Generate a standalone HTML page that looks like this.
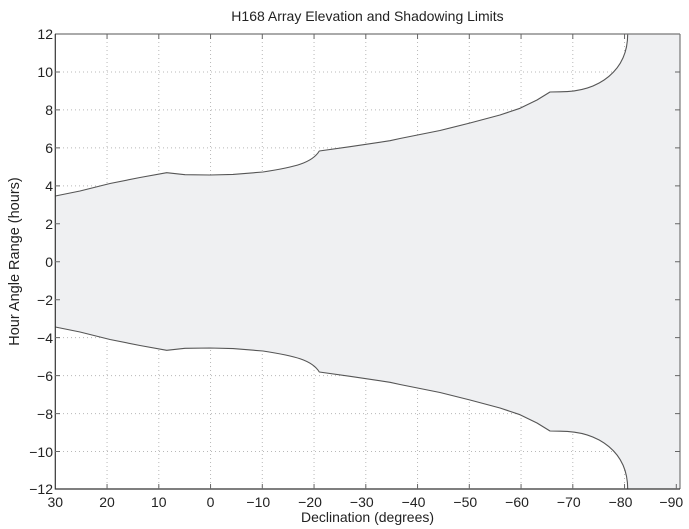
<!DOCTYPE html>
<html><head><meta charset="utf-8"><style>
html,body{margin:0;padding:0;background:#fff;}
svg{display:block;}
text{font-family:"Liberation Sans",Arial,sans-serif;fill:#222;}
</style></head><body>
<svg width="689" height="529" viewBox="0 0 689 529" xmlns="http://www.w3.org/2000/svg">
<rect x="0" y="0" width="689" height="529" fill="#fff"/>
<!-- grid -->
<g stroke="#b8b8b8" stroke-width="1" stroke-dasharray="1,3">
<line x1="107.05" y1="34" x2="107.05" y2="489"/>
<line x1="158.8" y1="34" x2="158.8" y2="489"/>
<line x1="210.55" y1="34" x2="210.55" y2="489"/>
<line x1="262.3" y1="34" x2="262.3" y2="489"/>
<line x1="314.05" y1="34" x2="314.05" y2="489"/>
<line x1="365.8" y1="34" x2="365.8" y2="489"/>
<line x1="417.55" y1="34" x2="417.55" y2="489"/>
<line x1="469.3" y1="34" x2="469.3" y2="489"/>
<line x1="521.05" y1="34" x2="521.05" y2="489"/>
<line x1="572.8" y1="34" x2="572.8" y2="489"/>
<line x1="624.55" y1="34" x2="624.55" y2="489"/>
<line x1="676.3" y1="34" x2="676.3" y2="489"/>
<line x1="55" y1="71.96" x2="680" y2="71.96"/>
<line x1="55" y1="109.92" x2="680" y2="109.92"/>
<line x1="55" y1="147.88" x2="680" y2="147.88"/>
<line x1="55" y1="185.84" x2="680" y2="185.84"/>
<line x1="55" y1="223.8" x2="680" y2="223.8"/>
<line x1="55" y1="261.76" x2="680" y2="261.76"/>
<line x1="55" y1="299.72" x2="680" y2="299.72"/>
<line x1="55" y1="337.68" x2="680" y2="337.68"/>
<line x1="55" y1="375.64" x2="680" y2="375.64"/>
<line x1="55" y1="413.6" x2="680" y2="413.6"/>
<line x1="55" y1="451.56" x2="680" y2="451.56"/>
</g>
<!-- shaded region -->
<path d="M55.3,196 L80,191 L110,183.5 L140,177.5 L166.7,172.7 L185,174.7 L210,175 L233,174.4 L263,172 C295,167 312,163 319.3,151 L350,146.7 L390,140.7 L400,138.5 L440,130.5 L470,123 L500,115 L520,108.3 L537,100 L550,92 L560,91.8 C600,91.8 627.7,70 627.7,34 L680,34 L680,489 L627.7,489 C627.7,453 600,431.2 560,431.2 L550,431 L537,423 L520,414.7 L500,408 L470,400 L440,392.5 L400,384.5 L390,382.3 L350,376.3 L319.3,372 C312,360 295,356 263,351 L233,348.6 L210,348 L185,348.3 L166.7,350.3 L140,345.5 L110,339.5 L80,332 L55.3,327 Z" fill="#eff0f2" stroke="none"/>
<!-- curves -->
<g fill="none" stroke="#555" stroke-width="1.1" stroke-linejoin="round">
<path d="M55.3,196 L80,191 L110,183.5 L140,177.5 L166.7,172.7 L185,174.7 L210,175 L233,174.4 L263,172 C295,167 312,163 319.3,151 L350,146.7 L390,140.7 L400,138.5 L440,130.5 L470,123 L500,115 L520,108.3 L537,100 L550,92 L560,91.8 C600,91.8 627.7,70 627.7,34"/>
<path d="M55.3,327 L80,332 L110,339.5 L140,345.5 L166.7,350.3 L185,348.3 L210,348 L233,348.6 L263,351 C295,356 312,360 319.3,372 L350,376.3 L390,382.3 L400,384.5 L440,392.5 L470,400 L500,408 L520,414.7 L537,423 L550,431 L560,431.2 C600,431.2 627.7,453 627.7,489"/>
</g>
<!-- axes box -->
<line x1="55" y1="34" x2="680" y2="34" stroke="#777" stroke-width="1.2"/>
<line x1="680" y1="34" x2="680" y2="489" stroke="#777" stroke-width="1.2"/>
<line x1="55.3" y1="34" x2="55.3" y2="489.5" stroke="#333" stroke-width="1.2"/>
<line x1="55" y1="489" x2="680" y2="489" stroke="#333" stroke-width="1.2"/>
<!-- ticks -->
<g stroke="#666" stroke-width="1">
<path d="M107.05,489v-5M158.8,489v-5M210.55,489v-5M262.3,489v-5M314.05,489v-5M365.8,489v-5M417.55,489v-5M469.3,489v-5M521.05,489v-5M572.8,489v-5M624.55,489v-5M676.3,489v-5"/>
<path d="M107.05,34v5M158.8,34v5M210.55,34v5M262.3,34v5M314.05,34v5M365.8,34v5M417.55,34v5M469.3,34v5M521.05,34v5M572.8,34v5M624.55,34v5"/>
<path d="M55,71.96h5M55,109.92h5M55,147.88h5M55,185.84h5M55,223.8h5M55,261.76h5M55,299.72h5M55,337.68h5M55,375.64h5M55,413.6h5M55,451.56h5"/>
<path d="M680,71.96h-5M680,109.92h-5M680,147.88h-5M680,185.84h-5M680,223.8h-5M680,261.76h-5M680,299.72h-5M680,337.68h-5M680,375.64h-5M680,413.6h-5M680,451.56h-5"/>
</g>
<!-- title -->
<text x="367.5" y="21" font-size="14" text-anchor="middle">H168 Array Elevation and Shadowing Limits</text>
<!-- y tick labels -->
<g font-size="14" text-anchor="end">
<text x="53" y="39">12</text>
<text x="53" y="77">10</text>
<text x="53" y="115">8</text>
<text x="53" y="153">6</text>
<text x="53" y="191">4</text>
<text x="53" y="229">2</text>
<text x="53" y="267">0</text>
<text x="53" y="305">−2</text>
<text x="53" y="343">−4</text>
<text x="53" y="381">−6</text>
<text x="53" y="419">−8</text>
<text x="53" y="457">−10</text>
<text x="53" y="494">−12</text>
</g>
<!-- x tick labels -->
<g font-size="14" text-anchor="middle">
<text x="55.3" y="507">30</text>
<text x="107.05" y="507">20</text>
<text x="158.8" y="507">10</text>
<text x="210.55" y="507">0</text>
<text x="258.3" y="507">−10</text>
<text x="310.05" y="507">−20</text>
<text x="361.8" y="507">−30</text>
<text x="413.55" y="507">−40</text>
<text x="465.3" y="507">−50</text>
<text x="517.05" y="507">−60</text>
<text x="568.8" y="507">−70</text>
<text x="620.55" y="507">−80</text>
<text x="671.3" y="507">−90</text>
</g>
<!-- axis labels -->
<text x="367.5" y="522" font-size="14" text-anchor="middle">Declination (degrees)</text>
<text transform="translate(19,261.5) rotate(-90)" font-size="14.5" text-anchor="middle">Hour Angle Range (hours)</text>
</svg>
</body></html>
